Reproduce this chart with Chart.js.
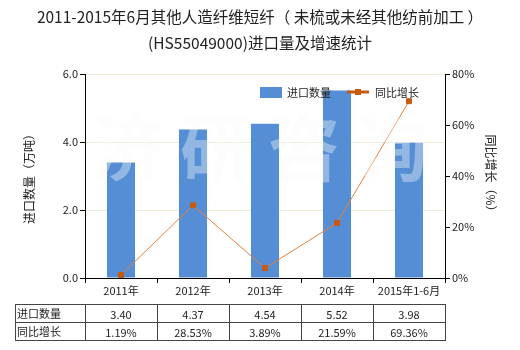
<!DOCTYPE html>
<html>
<head>
<meta charset="utf-8">
<script src="https://cdn.jsdelivr.net/npm/chart.js@4"></script>
<style>
body{margin:0;background:#fff;}
#wrap{width:520px;height:350px;position:relative;}
</style>
</head>
<body>
<div id="wrap"><canvas id="chart" width="520" height="350"></canvas></div>
<script>
const categories = ["2011年","2012年","2013年","2014年","2015年1-6月"];
const importQty = [3.40, 4.37, 4.54, 5.52, 3.98];
const growth = [1.19, 28.53, 3.89, 21.59, 69.36];
const qtyTicks = [0, 2, 4, 6];
const growthTicks = [0, 20, 40, 60, 80];

const FONT = "'Noto Sans CJK SC', 'Microsoft YaHei', sans-serif";
const BAR = "#558ED5";
const LINE = "#E8803A";
const MARK = "#C55A11";

const extras = {
  id: "extras",
  afterDatasetsDraw(chart) {
    const ctx = chart.ctx;
    const a = chart.chartArea;
    // watermark
    ctx.save();
    ctx.font = "bold 72px " + FONT;
    ctx.fillStyle = "rgba(250,250,250,0.38)";
    ctx.textAlign = "center";
    ctx.textBaseline = "middle";
    const wm = "济研咨询";
    const cx = (a.left + a.right) / 2 - 5;
    for (let i = 0; i < wm.length; i++) {
      ctx.fillText(wm[i], cx + (i - 1.5) * 88, 148);
    }
    ctx.restore();
  },
  afterDraw(chart) {
    const ctx = chart.ctx;
    const a = chart.chartArea;
    const x = chart.scales.x;
    ctx.save();
    // legend
    ctx.font = "11px " + FONT;
    ctx.textBaseline = "middle";
    ctx.fillStyle = BAR;
    ctx.fillRect(260, 87, 22, 11);
    ctx.fillStyle = "#222";
    ctx.fillText(chart.data.datasets[0].label, 287, 93);
    ctx.strokeStyle = MARK;
    ctx.lineWidth = 3;
    ctx.beginPath(); ctx.moveTo(347, 92); ctx.lineTo(369, 92); ctx.stroke();
    ctx.fillStyle = MARK;
    ctx.fillRect(355, 89, 6, 6);
    ctx.fillStyle = "#222";
    ctx.fillText(chart.data.datasets[1].label, 375, 93);

    // table
    const top = 304, mid = 322, bot = 340, left = 15;
    const half = (x.getPixelForValue(1) - x.getPixelForValue(0)) / 2;
    ctx.strokeStyle = "#444";
    ctx.lineWidth = 1;
    ctx.strokeRect(left + 0.5, top + 0.5, a.right - left, bot - top);
    ctx.beginPath();
    ctx.moveTo(left, mid + 0.5); ctx.lineTo(a.right, mid + 0.5);
    for (let i = 0; i < categories.length; i++) {
      const px = Math.round(x.getPixelForValue(i) - half) + 0.5;
      ctx.moveTo(px, top); ctx.lineTo(px, bot);
    }
    ctx.stroke();
    ctx.font = "11px " + FONT;
    ctx.fillStyle = "#222";
    ctx.textAlign = "left";
    ctx.fillText(chart.data.datasets[0].label, left + 2, (top + mid) / 2 + 1);
    ctx.fillText(chart.data.datasets[1].label, left + 2, (mid + bot) / 2 + 1);
    ctx.textAlign = "center";
    for (let i = 0; i < categories.length; i++) {
      const px = x.getPixelForValue(i);
      ctx.fillText(importQty[i].toFixed(2), px, (top + mid) / 2 + 2);
      ctx.fillText(growth[i].toFixed(2) + "%", px, (mid + bot) / 2 + 2);
    }
    ctx.restore();
  }
};

new Chart(document.getElementById("chart"), {
  type: "bar",
  data: {
    labels: categories,
    datasets: [{
      label: "进口数量",
      data: importQty,
      backgroundColor: BAR,
      barPercentage: 0.39,
      categoryPercentage: 1,
      yAxisID: "y",
      order: 2
    }, {
      type: "line",
      label: "同比增长",
      data: growth,
      borderColor: LINE,
      borderWidth: 1,
      pointStyle: "rect",
      pointRadius: 3.5,
      pointBackgroundColor: MARK,
      pointBorderColor: MARK,
      tension: 0,
      yAxisID: "y1",
      order: 1
    }]
  },
  options: {
    responsive: false,
    animation: false,
    layout: { padding: 0 },
    plugins: {
      legend: { display: false },
      tooltip: { enabled: false },
      title: {
        display: true,
        text: ["2011-2015年6月其他人造纤维短纤（ 未梳或未经其他纺前加工 ）", "(HS55049000)进口量及增速统计"],
        color: "#222",
        font: { family: FONT, size: 15.5, weight: "normal", lineHeight: 1.68 },
        padding: { top: 4, bottom: 18 }
      }
    },
    scales: {
      x: {
        afterFit: s => { s.height = 72; },
        grid: { drawOnChartArea: false, tickLength: 5, color: "#000" },
        border: { color: "#000" },
        ticks: { color: "#222", font: { family: FONT, size: 11 }, padding: 1, maxRotation: 0 }
      },
      y: {
        position: "left",
        min: 0, max: 6,
        afterFit: s => { s.width = 85; },
        afterBuildTicks: s => { s.ticks = qtyTicks.map(v => ({ value: v })); },
        grid: { color: "#EFEBD6", tickColor: "#000", tickLength: 5 },
        border: { color: "#000" },
        ticks: { color: "#222", font: { family: FONT, size: 11 }, padding: 2, callback: v => v.toFixed(1) },
        title: { display: true, text: "进口数量（万吨）", color: "#222", font: { family: FONT, size: 12 }, padding: { top: 22 } }
      },
      y1: {
        position: "right",
        min: 0, max: 80,
        afterFit: s => { s.width = 75; },
        afterBuildTicks: s => { s.ticks = growthTicks.map(v => ({ value: v })); },
        grid: { drawOnChartArea: false, color: "#000", tickLength: 5 },
        border: { color: "#000" },
        ticks: { color: "#222", font: { family: FONT, size: 11 }, padding: 2, callback: v => v + "%" },
        title: { display: true, text: "同比增长（%）", color: "#222", font: { family: FONT, size: 12 }, padding: { top: 22 } }
      }
    }
  },
  plugins: [extras]
});
</script>
</body>
</html>
